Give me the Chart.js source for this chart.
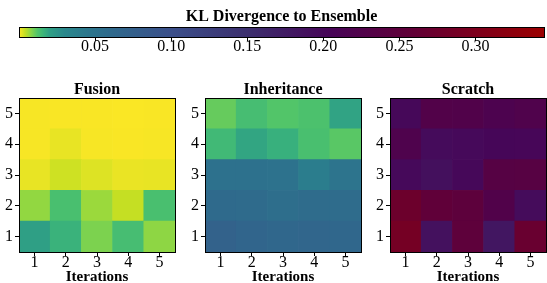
<!DOCTYPE html>
<html><head><meta charset="utf-8">
<script src="https://cdn.jsdelivr.net/npm/chart.js@4.4.1/dist/chart.umd.min.js"></script>
<style>
html,body{margin:0;padding:0;background:#fff;width:547px;height:283px;overflow:hidden;position:relative;}
canvas{position:absolute;display:block;}
</style></head><body>
<canvas id="cb" width="547" height="62" style="left:0;top:0"></canvas>
<canvas id="h0" width="176" height="216" style="left:0;top:70px"></canvas>
<canvas id="h1" width="176" height="216" style="left:186px;top:70px"></canvas>
<canvas id="h2" width="176" height="216" style="left:371px;top:70px"></canvas>
<script>
// ---- data ----
const iterations = ['1', '2', '3', '4', '5'];
const rows = [1, 2, 3, 4, 5];            // y positions (bottom to top)
const yTicks = [1, 2, 3, 4, 5];
const cbTicks = [0.05, 0.10, 0.15, 0.20, 0.25, 0.30];
const cbMin = 0;
const cbMax = 0.345;
const panelTitles = ['Fusion', 'Inheritance', 'Scratch'];
const cbTitle = 'KL Divergence to Ensemble';
const xTitle = 'Iterations';

// values[row y=1..5][iteration 1..5]
const fusion = [
  [0.0205, 0.0165, 0.0088, 0.0140, 0.0075],
  [0.0072, 0.0135, 0.0066, 0.0038, 0.0135],
  [0.0014, 0.0032, 0.0022, 0.0013, 0.0014],
  [0.0004, 0.0014, 0.0004, 0.0003, 0.0004],
  [0.0004, 0.0003, 0.0003, 0.0002, 0.0003]
];
const inheritance = [
  [0.072, 0.068, 0.064, 0.066, 0.064],
  [0.060, 0.059, 0.055, 0.058, 0.058],
  [0.052, 0.052, 0.051, 0.040, 0.048],
  [0.015, 0.019, 0.017, 0.0135, 0.0115],
  [0.0105, 0.014, 0.012, 0.013, 0.0195]
];
const scratch = [
  [0.288, 0.188, 0.252, 0.182, 0.270],
  [0.275, 0.255, 0.250, 0.226, 0.195],
  [0.198, 0.190, 0.200, 0.236, 0.238],
  [0.222, 0.196, 0.198, 0.202, 0.203],
  [0.200, 0.228, 0.226, 0.218, 0.224]
];

// colormap stops
const cmapVals = [0.000, 0.004, 0.008, 0.012, 0.016, 0.020, 0.030, 0.045, 0.060, 0.100, 0.150, 0.205, 0.260, 0.345];
const cmapCols = ['#fde725', '#c2df23', '#86d549', '#52c569', '#3bb57a', '#2fa085', '#2a888c', '#2c778d', '#2f6a8c', '#3b4f8a', '#3c2f6e', '#470457', '#620036', '#9b0000'];

function hex2rgb(h) { return [parseInt(h.slice(1,3),16), parseInt(h.slice(3,5),16), parseInt(h.slice(5,7),16)]; }
function cmap(v) {
  if (v <= cmapVals[0]) return cmapCols[0];
  for (let i = 1; i < cmapVals.length; i++) {
    if (v <= cmapVals[i]) {
      const t = (v - cmapVals[i-1]) / (cmapVals[i] - cmapVals[i-1]);
      const a = hex2rgb(cmapCols[i-1]), b = hex2rgb(cmapCols[i]);
      const c = a.map((x, k) => Math.round(x + (b[k] - x) * t));
      return 'rgb(' + c.join(',') + ')';
    }
  }
  return cmapCols[cmapCols.length - 1];
}

const FAM = "'Liberation Serif', 'Times New Roman', serif";
Chart.defaults.font.family = FAM;
Chart.defaults.color = '#000';
const tickFont = { family: FAM, size: 16, lineHeight: 1 };
const frame = { display: true, color: '#000', width: 1, z: 1 };

function heatmap(id, title, vals) {
  const datasets = rows.map((r, i) => ({
    data: iterations.map(() => [r - 0.5, r + 0.5]),
    backgroundColor: vals[i].map(cmap),
    borderWidth: 0,
    grouped: false,
    barPercentage: 1,
    categoryPercentage: 1
  }));
  new Chart(document.getElementById(id), {
    type: 'bar',
    data: { labels: iterations, datasets },
    options: {
      responsive: false, animation: false, events: [],
      layout: { padding: { left: 0, right: 1, top: 0, bottom: 0 } },
      plugins: { legend: { display: false }, tooltip: { enabled: false }, title: { display: false } },
      scales: {
        x: {
          type: 'category', position: 'bottom', offset: true,
          grid: { display: true, drawOnChartArea: false, offset: false, tickLength: 4, color: '#000' },
          border: frame,
          ticks: { font: tickFont, color: '#000', padding: -1, maxRotation: 0 },
          title: { display: true, text: xTitle, color: '#000', font: { family: FAM, size: 15, weight: 'bold', lineHeight: 1 }, padding: { top: 0, bottom: 1.5 } },
          afterFit: s => { s.height = 34; }
        },
        xTop: {
          type: 'category', position: 'top', offset: true,
          grid: { display: false }, border: frame, ticks: { display: false },
          title: { display: true, text: title, color: '#000', font: { family: FAM, size: 16, weight: 'bold', lineHeight: 1 }, padding: { top: 12, bottom: 0 } },
          afterFit: s => { s.height = 28; }
        },
        y: {
          type: 'linear', position: 'left', min: 0.5, max: 5.5,
          afterBuildTicks: s => { s.ticks = yTicks.map(v => ({ value: v })); },
          grid: { display: true, drawOnChartArea: false, tickLength: 4, color: '#000' },
          border: frame,
          ticks: { font: tickFont, color: '#000', padding: 2 },
          afterFit: s => { s.width = 19; }
        },
        yRight: {
          type: 'linear', position: 'right', min: 0.5, max: 5.5,
          grid: { display: false }, border: frame, ticks: { display: false },
          afterFit: s => { s.width = 0; }
        }
      }
    }
  });
}

heatmap('h0', panelTitles[0], fusion);
heatmap('h1', panelTitles[1], inheritance);
heatmap('h2', panelTitles[2], scratch);

// colorbar
function gradientFill(ctx) {
  const ch = ctx.chart;
  const xs = ch.scales.x;
  if (!ch.chartArea || !xs) return '#888';
  const g = ch.ctx.createLinearGradient(xs.getPixelForValue(cmapVals[0]), 0, xs.getPixelForValue(cmapVals[cmapVals.length-1]), 0);
  const span = cmapVals[cmapVals.length-1] - cmapVals[0];
  cmapVals.forEach((v, i) => g.addColorStop((v - cmapVals[0]) / span, cmapCols[i]));
  return g;
}
new Chart(document.getElementById('cb'), {
  type: 'bar',
  data: { labels: [''], datasets: [{ data: [[cbMin, cbMax]], backgroundColor: gradientFill, borderWidth: 0, barPercentage: 1, categoryPercentage: 1 }] },
  options: {
    indexAxis: 'y', responsive: false, animation: false, events: [],
    layout: { padding: { left: 19, right: 3, top: 0, bottom: 0 } },
    plugins: {
      legend: { display: false }, tooltip: { enabled: false },
      title: { display: true, text: cbTitle, color: '#000', font: { family: FAM, size: 16, weight: 'bold', lineHeight: 1 }, padding: { top: 9, bottom: 2 } }
    },
    scales: {
      x: {
        type: 'linear', position: 'bottom', min: cbMin, max: cbMax,
        afterBuildTicks: s => { s.ticks = cbTicks.map(v => ({ value: v })); },
        grid: { display: true, drawOnChartArea: false, tickLength: 4, color: '#000' },
        border: frame,
        ticks: { font: tickFont, color: '#000', padding: -2, callback: v => Number(v).toFixed(2) },
        afterFit: s => { s.height = 25; }
      },
      xTop: {
        type: 'linear', position: 'top', min: cbMin, max: cbMax,
        grid: { display: false }, border: frame, ticks: { display: false },
        afterFit: s => { s.height = 0; }
      },
      y: {
        type: 'category', position: 'left',
        grid: { display: false }, border: frame, ticks: { display: false },
        afterFit: s => { s.width = 0; }
      },
      yRight: {
        type: 'linear', position: 'right',
        grid: { display: false }, border: frame, ticks: { display: false },
        afterFit: s => { s.width = 0; }
      }
    }
  }
});
</script>
</body></html>
